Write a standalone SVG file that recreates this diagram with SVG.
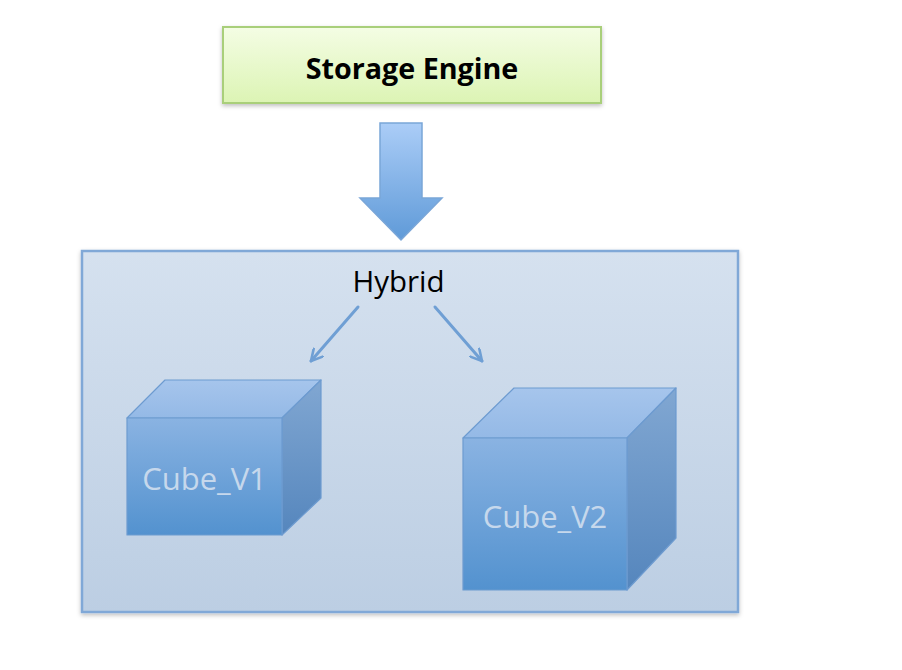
<svg xmlns="http://www.w3.org/2000/svg" width="902" height="670" viewBox="0 0 902 670">
<defs>
<linearGradient id="gGreen" x1="0" y1="0" x2="0" y2="1"><stop offset="0" stop-color="#f4fde4"/><stop offset="1" stop-color="#dcf4b4"/></linearGradient>
<linearGradient id="gBig" x1="0" y1="0" x2="0" y2="1"><stop offset="0" stop-color="#abcdf7"/><stop offset="1" stop-color="#5f9ad8"/></linearGradient>
<linearGradient id="gCont" x1="0" y1="0" x2="0" y2="1"><stop offset="0" stop-color="#d5e1ef"/><stop offset="1" stop-color="#bccee3"/></linearGradient>
<linearGradient id="gFront" x1="0" y1="0" x2="0" y2="1"><stop offset="0" stop-color="#8ab3e2"/><stop offset="1" stop-color="#5392cf"/></linearGradient>
<linearGradient id="gSide" x1="0" y1="0" x2="0" y2="1"><stop offset="0" stop-color="#81a7d2"/><stop offset="1" stop-color="#5586bd"/></linearGradient>
<linearGradient id="gTop" x1="0" y1="0" x2="0" y2="1"><stop offset="0" stop-color="#a6c5ec"/><stop offset="1" stop-color="#94b9e6"/></linearGradient>
<filter id="sh" x="-10%" y="-10%" width="120%" height="130%"><feDropShadow dx="0" dy="2" stdDeviation="2" flood-color="#000" flood-opacity="0.25"/></filter>
<marker id="ah" viewBox="0 0 14 14" refX="12" refY="7" markerWidth="14" markerHeight="14" markerUnits="userSpaceOnUse" orient="auto">
<path d="M1,1 L12,7 L1,13" fill="none" stroke="#6f9fd4" stroke-width="2.6" stroke-linecap="round" stroke-linejoin="round"/>
</marker>
</defs>
<style>
.lbl{font-family:"Open Sans","Liberation Sans",sans-serif;text-anchor:middle}
.cube{stroke:#6d9bd0;stroke-width:1.2;stroke-linejoin:round}
.ctext{fill:#c6d8ec;font-size:31px}
.conn{stroke:#6f9fd4;stroke-width:3;fill:none;stroke-linecap:round}
</style>
<rect width="902" height="670" fill="#ffffff"/>
<g id="storage-engine">
<rect x="223" y="27" width="378" height="76" fill="url(#gGreen)" stroke="#a9cf7a" stroke-width="2" filter="url(#sh)"/>
<text class="lbl" x="412" y="79" font-size="28.7" font-weight="bold" fill="#000">Storage Engine</text>
</g>
<g id="big-arrow">
<path d="M380,123 L422,123 L422,198 L442,198 L401,240 L360,198 L380,198 Z" fill="url(#gBig)" stroke="#7aa6d8" stroke-width="1.5" stroke-linejoin="miter"/>
</g>
<g id="hybrid">
<rect x="82" y="251" width="656" height="361" fill="url(#gCont)" stroke="#80a8d7" stroke-width="2.5" filter="url(#sh)"/>
<text class="lbl" x="398.5" y="292" font-size="29.5" fill="#000">Hybrid</text>
</g>
<g id="cube-v1">
<path class="cube" d="M127,418 L165,380 L321,380 L282,418 Z" fill="url(#gTop)"/>
<path class="cube" d="M282,418 L321,380 L321,498 L282,535 Z" fill="url(#gSide)"/>
<rect class="cube" x="127" y="418" width="155" height="117" fill="url(#gFront)"/>
<text class="lbl ctext" x="204.5" y="490">Cube_V1</text>
</g>
<g id="cube-v2">
<path class="cube" d="M463,438 L514,388 L676,388 L627,438 Z" fill="url(#gTop)"/>
<path class="cube" d="M627,438 L676,388 L676,538 L627,590 Z" fill="url(#gSide)"/>
<rect class="cube" x="463" y="438" width="164" height="152" fill="url(#gFront)"/>
<text class="lbl ctext" x="545" y="528">Cube_V2</text>
</g>
<g id="connectors">
<line class="conn" x1="358" y1="307" x2="311" y2="361" marker-end="url(#ah)"/>
<line class="conn" x1="435" y1="307" x2="482" y2="361" marker-end="url(#ah)"/>
</g>
</svg>
